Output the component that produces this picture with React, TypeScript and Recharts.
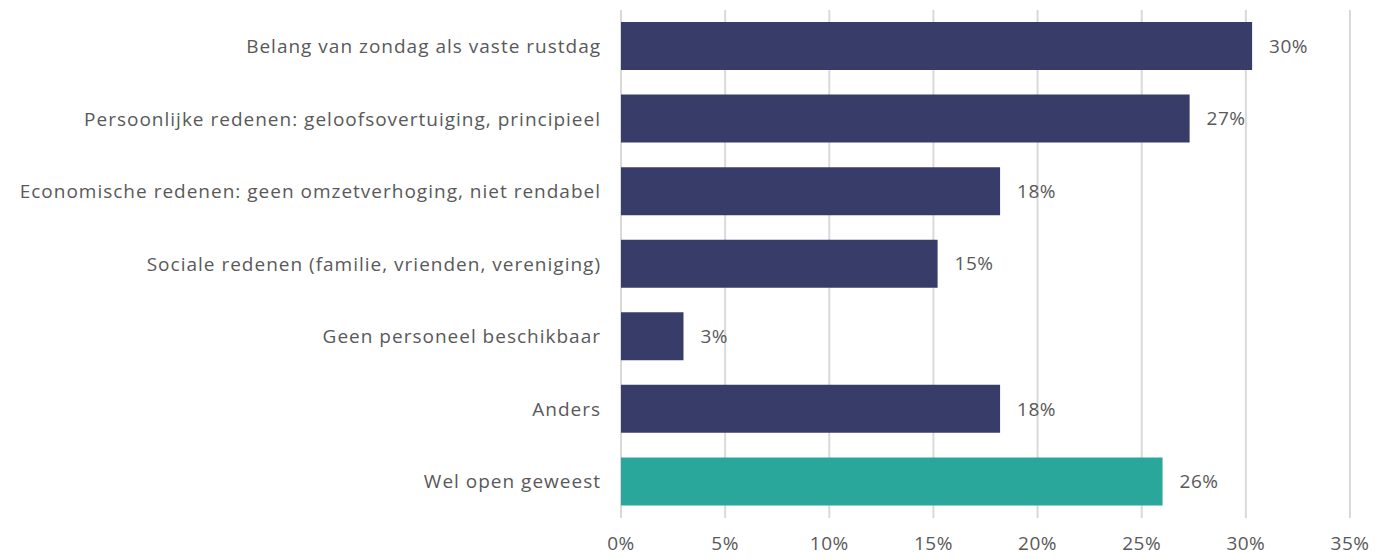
import { BarChart, Bar, XAxis, YAxis, CartesianGrid, Cell, LabelList } from "recharts";

const categories = [
  "Belang van zondag als vaste rustdag",
  "Persoonlijke redenen: geloofsovertuiging, principieel",
  "Economische redenen: geen omzetverhoging, niet rendabel",
  "Sociale redenen (familie, vrienden, vereniging)",
  "Geen personeel beschikbaar",
  "Anders",
  "Wel open geweest",
];
const values = [30.3, 27.3, 18.2, 15.2, 3.0, 18.2, 26.0];
const valueLabels = ["30%", "27%", "18%", "15%", "3%", "18%", "26%"];
const barColors = ["#383c68", "#383c68", "#383c68", "#383c68", "#383c68", "#383c68", "#2aa79b"];
const xTicks = [0, 5, 10, 15, 20, 25, 30, 35];

const data = categories.map((name, i) => ({
  name,
  value: values[i],
  label: valueLabels[i],
}));

const font = "'Open Sans', sans-serif";
const textColor = "#595959";

export default function App() {
  return (
    <div style={{ position: "absolute", left: 0, top: 0 }}>
      <BarChart
        width={1375}
        height={559}
        data={data}
        layout="vertical"
        margin={{ top: 10, right: 25, left: 0, bottom: 0 }}
      >
        <CartesianGrid horizontal={false} stroke="#d9d9d9" strokeWidth={2} />
        <XAxis
          type="number"
          domain={[0, 35]}
          ticks={xTicks}
          tickFormatter={(v: number) => `${v}%`}
          axisLine={false}
          tickLine={false}
          tickSize={0}
          tickMargin={19}
          height={41}
          interval={0}
          tick={{ fill: textColor, fontSize: 19, fontFamily: font, letterSpacing: 0.5 }}
        />
        <YAxis
          type="category"
          dataKey="name"
          width={621}
          axisLine={false}
          tickLine={false}
          tickSize={0}
          tickMargin={20}
          interval={0}
          tick={{ fill: textColor, fontSize: 19, fontFamily: font, letterSpacing: 1 }}
        />
        <Bar dataKey="value" barSize={48} isAnimationActive={false}>
          {data.map((d, i) => (
            <Cell key={d.name} fill={barColors[i]} />
          ))}
          <LabelList
            dataKey="label"
            position="right"
            offset={17}
            fill={textColor}
            fontSize={19}
            fontFamily={font}
            letterSpacing={0.5}
          />
        </Bar>
      </BarChart>
    </div>
  );
}
